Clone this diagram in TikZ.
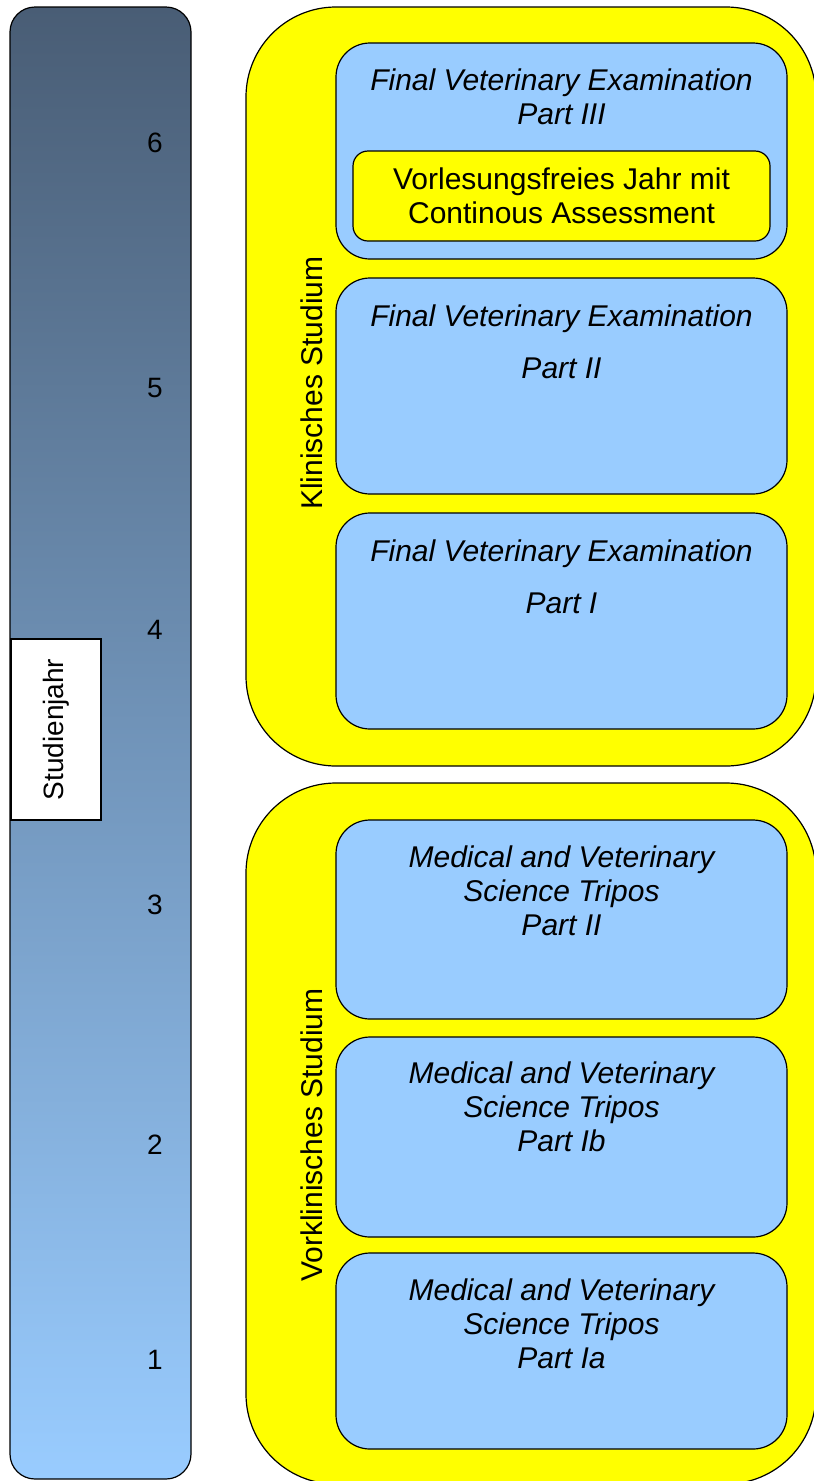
\documentclass[tikz,border=0pt]{standalone}
\usepackage{fontspec}
\setmainfont{Liberation Sans}
\usetikzlibrary{positioning,calc}
\definecolor{examblue}{RGB}{153,204,255}
\definecolor{bardark}{RGB}{73,93,117}
\definecolor{phaseyellow}{RGB}{255,255,0}

\tikzset{
  phase/.style={draw=black, fill=phaseyellow, rounded corners=90pt, minimum width=570pt, inner sep=0pt},
  exam/.style={draw=black, fill=examblue, rounded corners=34pt, minimum width=451pt, inner sep=0pt},
  examtext/.style={font=\fontsize{30}{34}\selectfont\itshape, align=center, inner sep=0pt},
  plaintext/.style={font=\fontsize{30}{34}\selectfont, align=center, inner sep=0pt},
  yearlabel/.style={font=\fontsize{28}{32}\selectfont, inner sep=0pt},
}

\begin{document}
\begin{tikzpicture}[x=1pt, y=-1pt, line width=1.2pt]
    \useasboundingbox (0,0) rectangle (814,1481);

    % Studienjahr bar
    \node[draw=black, rounded corners=25pt, top color=bardark, bottom color=examblue,
          minimum width=181pt, minimum height=1472pt, inner sep=0pt] (bar) at (100.5,743) {};
    \node[draw=black, fill=white, rotate=90, minimum width=181pt, minimum height=90pt,
          yearlabel] (jahr) at (56,729.5) {Studienjahr};
    \foreach \n/\y in {6/143,5/388,4/630,3/905,2/1145,1/1360}
        \node[yearlabel] (year\n) at (155,\y) {\n};

    % Klinisches Studium
    \node[phase, minimum height=759pt] (klin) at (531,386.5) {};
    \node[plaintext, rotate=90] (klinlabel) at (312,383) {Klinisches Studium};

    \node[exam, minimum height=216pt] (fve3) at (561.5,151) {};
    \node[examtext] (fve3t) at ($(fve3.north)+(0,54)$) {Final Veterinary Examination\\Part III};
    \node[draw=black, fill=phaseyellow, rounded corners=15pt, minimum width=417pt,
          minimum height=90pt, plaintext] (ca) at (561.5,196) {Vorlesungsfreies Jahr mit\\Continous Assessment};

    \node[exam, minimum height=216pt] (fve2) at (561.5,386) {};
    \node[examtext] (fve2t) at ($(fve2.north)+(0,64)$) {Final Veterinary Examination\\[18pt]Part II};

    \node[exam, minimum height=216pt] (fve1) at (561.5,621) {};
    \node[examtext] (fve1t) at ($(fve1.north)+(0,64)$) {Final Veterinary Examination\\[18pt]Part I};

    % Vorklinisches Studium
    \node[phase, minimum height=701pt] (vorklin) at (531,1133.5) {};
    \node[plaintext, rotate=90] (vorklinlabel) at (312,1135) {Vorklinisches Studium};

    \node[exam, minimum height=199pt] (mvst2) at (561.5,919.5) {};
    \node[examtext] (mvst2t) at ($(mvst2.north)+(0,71)$) {Medical and Veterinary\\Science Tripos\\Part II};

    \node[exam, minimum height=200pt] (mvst1b) at (561.5,1137) {};
    \node[examtext] (mvst1bt) at ($(mvst1b.north)+(0,70)$) {Medical and Veterinary\\Science Tripos\\Part Ib};

    \node[exam, minimum height=196pt] (mvst1a) at (561.5,1351) {};
    \node[examtext] (mvst1at) at ($(mvst1a.north)+(0,71)$) {Medical and Veterinary\\Science Tripos\\Part Ia};
\end{tikzpicture}
\end{document}
